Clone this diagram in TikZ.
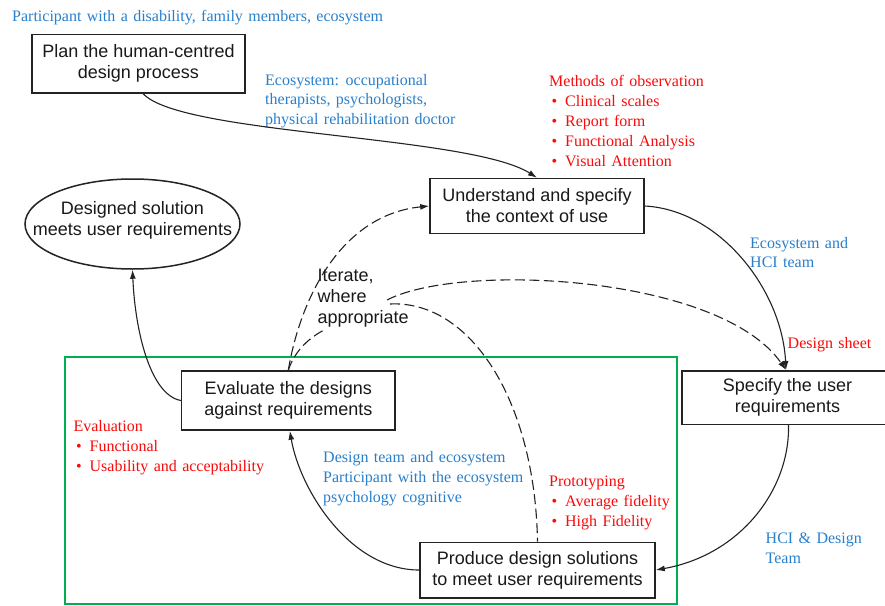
\documentclass[tikz,border=0pt]{standalone}
\usepackage{fontspec}
\setmainfont{Liberation Serif}
\newfontfamily\boxfont{Liberation Sans}
\newfontfamily\labfont[WordSpace=1.35]{Liberation Serif}
\usetikzlibrary{shapes.geometric,arrows.meta}
\definecolor{lblue}{RGB}{40,128,205}
\definecolor{lred}{RGB}{250,10,10}
\definecolor{lgreen}{RGB}{0,176,80}
\definecolor{boxc}{RGB}{35,35,35}
\definecolor{txtc}{RGB}{25,25,25}
\newcommand\myb{\makebox[13.5pt][l]{•}}
\tikzset{
  stepbox/.style={draw=boxc, line width=1.5pt, inner sep=0pt, align=center, text=txtc,
    font=\boxfont\fontsize{18}{21}\selectfont},
  plaintext/.style={inner sep=0pt, align=center, text=txtc,
    font=\boxfont\fontsize{18}{21}\selectfont},
  lab/.style={anchor=base west, inner sep=0pt, font=\labfont\fontsize{16}{20}\selectfont},
  itlab/.style={anchor=base west, inner sep=0pt, text=txtc, font=\boxfont\fontsize{18}{21}\selectfont},
  arr/.style={-{Latex[length=9pt,width=6pt]}, line width=1.1pt, draw=boxc},
  dsh/.style={line width=1.1pt, draw=boxc, dash pattern=on 10pt off 4.5pt},
}
\begin{document}
\begin{tikzpicture}[x=1pt,y=-1pt]
\useasboundingbox (0,0) rectangle (885,605);
\fill[white] (0,0) rectangle (885,605);

% green frame
\draw[lgreen, line width=2pt] (64.5,357) rectangle (677,603.5);

% boxes
\node[stepbox, minimum width=213pt, minimum height=58.5pt] (plan) at (138.5,63.5)
  {Plan the human-centred\\design process};
\node[stepbox, minimum width=214pt, minimum height=55pt] (und) at (537,206)
  {Understand and specify\\the context of use};
\node[draw=boxc, line width=1.5pt, ellipse, inner sep=0pt, minimum width=215pt, minimum height=90pt] (ell) at (132.5,224) {};
\node[plaintext] (elltext) at (132.5,220.5) {Designed solution\\meets user requirements};
\node[stepbox, minimum width=211pt, minimum height=53.5pt] (spec) at (787.5,397.5)
  {Specify the user\\requirements};
\node[stepbox, minimum width=213.3pt, minimum height=59pt] (eval) at (288.3,400.5)
  {Evaluate the designs\\against requirements};
\node[stepbox, minimum width=235pt, minimum height=55.5pt] (prod) at (537.5,570)
  {Produce design solutions\\to meet user requirements};

% iterate label
\node[itlab] (it1) at (317.5,281.7) {Iterate,};
\node[itlab] (it2) at (317.5,302.5) {where};
\node[itlab] (it3) at (317.5,323.3) {appropriate};

% blue labels
\node[lab, text=lblue] (t0) at (12,21) {Participant with a disability, family members, ecosystem};
\node[lab, text=lblue] (e1) at (265,85) {Ecosystem: occupational};
\node[lab, text=lblue] (e2) at (265,104.5) {therapists, psychologists,};
\node[lab, text=lblue] (e3) at (265,124) {physical rehabilitation doctor};
\node[lab, text=lblue] (h1) at (750,248) {Ecosystem and};
\node[lab, text=lblue] (h2) at (750,267.5) {HCI team};
\node[lab, text=lblue] (dt1) at (323,462.3) {Design team and ecosystem};
\node[lab, text=lblue] (dt2) at (323,482.3) {Participant with the ecosystem};
\node[lab, text=lblue] (dt3) at (323,502.3) {psychology cognitive};
\node[lab, text=lblue] (hd1) at (765.5,543.3) {HCI \& Design};
\node[lab, text=lblue] (hd2) at (765.5,563.3) {Team};

% red labels
\node[lab, text=lred] (m0) at (549,86.7) {Methods of observation};
\node[lab, text=lred] (m1) at (551.5,106.7) {\myb Clinical scales};
\node[lab, text=lred] (m2) at (551.5,126.7) {\myb Report form};
\node[lab, text=lred] (m3) at (551.5,146.7) {\myb Functional Analysis};
\node[lab, text=lred] (m4) at (551.5,166.7) {\myb Visual Attention};
\node[lab, text=lred] (ds) at (787.5,348.3) {Design sheet};
\node[lab, text=lred] (ev0) at (73.3,431.7) {Evaluation};
\node[lab, text=lred] (ev1) at (76,451.7) {\myb Functional};
\node[lab, text=lred] (ev2) at (76,471.7) {\myb Usability and acceptability};
\node[lab, text=lred] (p0) at (549,486.7) {Prototyping};
\node[lab, text=lred] (p1) at (551.5,506.7) {\myb Average fidelity};
\node[lab, text=lred] (p2) at (551.5,526.3) {\myb High Fidelity};

% solid connectors
\draw[arr] ([xshift=4.5pt]plan.south) .. controls (180,135) and (470,135) .. (und.north);
\draw[arr] (und.east) .. controls (720,210) and (782,290) .. ([xshift=-1.5pt]spec.north);
\draw[arr] ([xshift=1pt]spec.south) .. controls (790,490) and (740,555) .. (prod.east);
\draw[arr] (prod.west) .. controls (350,570) and (300,490) .. ([xshift=1.5pt]eval.south);
\draw[arr] (eval.west) .. controls (150,395) and (135,330) .. (ell.south);

% dashed iteration connectors
\coordinate (ib) at (326,329);
\coordinate (ic) at (387,300);
\coordinate (id) at (390,304);
\draw[dsh, -{Latex[length=9pt,width=6pt]}] (eval.north) .. controls (300,300) and (340,215) .. (und.west);
\draw[dsh] (eval.north) .. controls (295,350) and (310,337) .. (ib);
\draw[dsh, -{Latex[length=9pt,width=6pt]}] (ic) .. controls (460,262) and (720,275) .. ([xshift=-1.5pt]spec.north);
\draw[dsh] (id) .. controls (470,300) and (535,400) .. (prod.north);
\end{tikzpicture}
\end{document}
